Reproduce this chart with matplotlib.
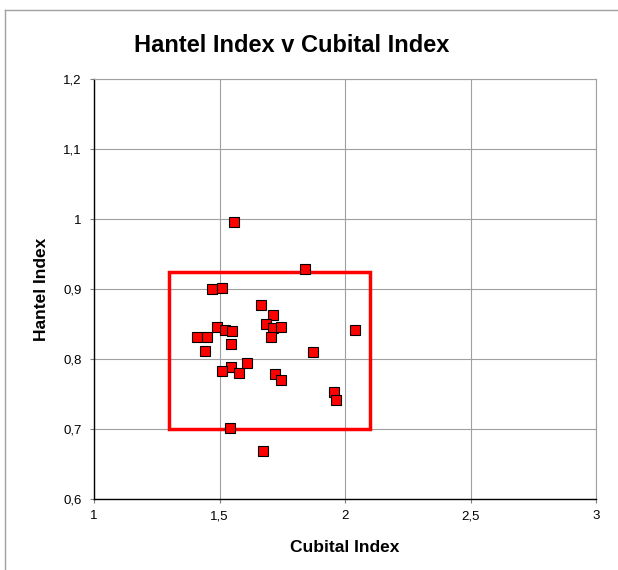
import matplotlib.pyplot as plt
from matplotlib.patches import Rectangle
from matplotlib.lines import Line2D

plt.rcParams['font.family'] = ['Liberation Sans', 'DejaVu Sans']

cubital = [1.556, 1.842, 1.470, 1.511, 1.667, 1.715, 1.684, 1.714, 1.747, 1.706,
           1.490, 1.522, 1.550, 1.411, 1.452, 1.443, 1.547, 2.038, 1.872, 1.611,
           1.544, 1.510, 1.576, 1.720, 1.746, 1.955, 1.964, 1.542, 1.675]
hantel = [0.996, 0.928, 0.900, 0.902, 0.877, 0.863, 0.850, 0.845, 0.846, 0.832,
          0.846, 0.841, 0.840, 0.831, 0.831, 0.812, 0.822, 0.841, 0.810, 0.795,
          0.789, 0.783, 0.780, 0.779, 0.770, 0.753, 0.741, 0.701, 0.669]

# highlighted region
box_x = (1.3, 2.1)
box_y = (0.70, 0.925)

x_ticks = [1, 1.5, 2, 2.5, 3]
x_labels = ['1', '1,5', '2', '2,5', '3']
y_ticks = [0.6, 0.7, 0.8, 0.9, 1.0, 1.1, 1.2]
y_labels = ['0,6', '0,7', '0,8', '0,9', '1', '1,1', '1,2']

fig = plt.figure(figsize=(6.18, 5.70), dpi=100)
ax = fig.add_axes([94/618, 1 - 499/570, 502/618, 420/570])

ax.plot(cubital, hantel, linestyle='none', marker='s', markersize=7,
        markerfacecolor='#ff0000', markeredgecolor='black', markeredgewidth=0.8,
        zorder=4)

ax.add_patch(Rectangle((box_x[0], box_y[0]), box_x[1] - box_x[0], box_y[1] - box_y[0],
                       fill=False, edgecolor='#ff0000', linewidth=2.5, zorder=3))

ax.set_xlim(1, 3)
ax.set_ylim(0.6, 1.2)
ax.set_xticks(x_ticks)
ax.set_xticklabels(x_labels)
ax.set_yticks(y_ticks)
ax.set_yticklabels(y_labels)
ax.grid(True, color='#a0a0a0', linewidth=0.8)
ax.set_axisbelow(True)
ax.tick_params(labelsize=9.5, length=3, color='#808080')
ax.tick_params(axis='x', pad=5)
ax.tick_params(axis='y', pad=6)

for side in ['top', 'right']:
    ax.spines[side].set_color('#a0a0a0')
    ax.spines[side].set_linewidth(0.8)
for side in ['left', 'bottom']:
    ax.spines[side].set_color('black')
    ax.spines[side].set_linewidth(1.0)

ax.set_xlabel('Cubital Index', fontsize=12.5, fontweight='bold', labelpad=13)
ax.set_ylabel('Hantel Index', fontsize=12.5, fontweight='bold', labelpad=10)

fig.text(292/618, 1 - 46/570, 'Hantel Index v Cubital Index', fontsize=17,
         fontweight='bold', ha='center', va='center')

# outer chart frame
fig.add_artist(Line2D([5/618, 5/618], [0, 1 - 10/570], transform=fig.transFigure,
                      color='#a0a0a0', linewidth=1))
fig.add_artist(Line2D([5/618, 1], [1 - 10/570, 1 - 10/570], transform=fig.transFigure,
                      color='#a0a0a0', linewidth=1))

fig.savefig('out.png', dpi=100)
